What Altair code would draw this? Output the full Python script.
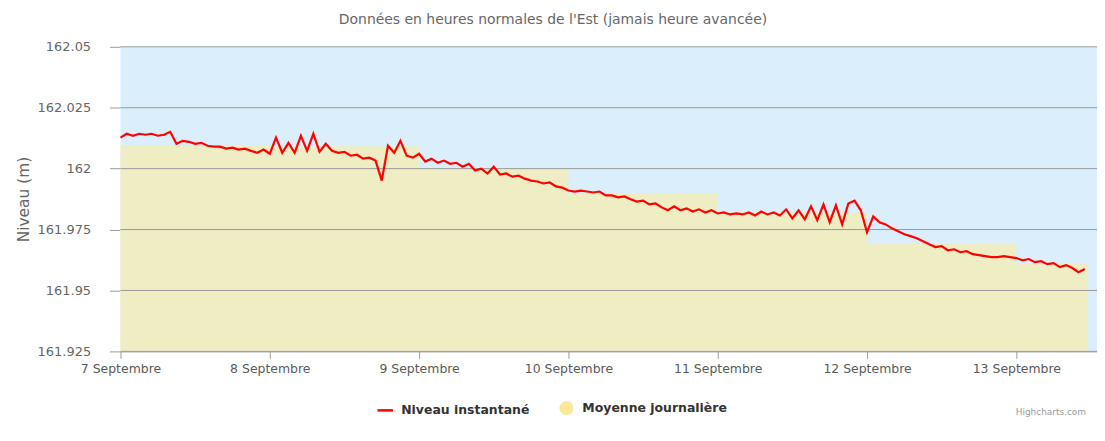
import altair as alt
import pandas as pd

titre = "Données en heures normales de l'Est (jamais heure avancée)"
credit = "Highcharts.com"
series = ["Niveau instantané", "Moyenne journalière"]
jours = [7, 8, 9, 10, 11, 12, 13]
y_ticks = [161.925, 161.95, 161.975, 162.0, 162.025, 162.05]

# Niveau instantané, valeurs horaires (m)
niveau_7 = [162.0127, 162.0143, 162.0135, 162.0143, 162.0139, 162.0143, 162.0135, 162.0139,
            162.0151, 162.0102, 162.0114, 162.0110, 162.0102, 162.0106, 162.0094, 162.0090,
            162.0090, 162.0082, 162.0086, 162.0078, 162.0082, 162.0073, 162.0065, 162.0078]
niveau_8 = [162.0061, 162.0127, 162.0065, 162.0106, 162.0065, 162.0135, 162.0073, 162.0143,
            162.0069, 162.0102, 162.0073, 162.0065, 162.0069, 162.0053, 162.0057, 162.0041,
            162.0045, 162.0033, 161.9951, 162.0094, 162.0065, 162.0114, 162.0053, 162.0045]
niveau_9 = [162.0061, 162.0029, 162.0041, 162.0024, 162.0033, 162.0020, 162.0024, 162.0008,
            162.0020, 161.9992, 162.0000, 161.9980, 162.0008, 161.9976, 161.9980, 161.9967,
            161.9971, 161.9959, 161.9951, 161.9947, 161.9939, 161.9943, 161.9927, 161.9922]
niveau_10 = [161.9910, 161.9906, 161.9910, 161.9906, 161.9902, 161.9906, 161.9890, 161.9890,
             161.9882, 161.9886, 161.9874, 161.9865, 161.9869, 161.9853, 161.9857, 161.9841,
             161.9829, 161.9845, 161.9829, 161.9837, 161.9824, 161.9833, 161.9820, 161.9829]
niveau_11 = [161.9816, 161.9820, 161.9812, 161.9816, 161.9812, 161.9820, 161.9808, 161.9824,
             161.9812, 161.9820, 161.9808, 161.9833, 161.9796, 161.9829, 161.9792, 161.9845,
             161.9788, 161.9853, 161.9780, 161.9849, 161.9771, 161.9857, 161.9869, 161.9829]
niveau_12 = [161.9739, 161.9804, 161.9780, 161.9771, 161.9755, 161.9743, 161.9731, 161.9723,
             161.9714, 161.9702, 161.9690, 161.9678, 161.9682, 161.9665, 161.9669, 161.9657,
             161.9661, 161.9649, 161.9645, 161.9641, 161.9637, 161.9637, 161.9641, 161.9637]
niveau_13 = [161.9633, 161.9624, 161.9629, 161.9616, 161.9620, 161.9608, 161.9612, 161.9596,
             161.9604, 161.9592, 161.9575, 161.9588]

# Moyenne journalière (m)
moyenne = [162.0094, 162.0092, 162.0000, 161.9897, 161.9820, 161.9694, 161.9610]
fin_moyenne = "2023-09-13T11:30:00Z"

niveau = niveau_7 + niveau_8 + niveau_9 + niveau_10 + niveau_11 + niveau_12 + niveau_13
temps = pd.date_range("2023-09-07 00:00", periods=len(niveau), freq="h")
df_niveau = pd.DataFrame({"t": [t.strftime("%Y-%m-%dT%H:%M:%SZ") for t in temps],
                          "niveau": niveau})
df_moy = pd.DataFrame({"t": ["2023-09-%02dT00:00:00Z" % d for d in jours] + [fin_moyenne],
                       "moyenne": moyenne + [moyenne[-1]]})
df_grid = pd.DataFrame({"v": y_ticks})
df_leg = pd.DataFrame({"serie": series})
df_credit = pd.DataFrame({"txt": [credit]})

FONT = "DejaVu Sans"
GRID = "#9a9a9a"
W, H = 981, 306

x_scale = alt.Scale(type="utc", domain=[
    alt.DateTime(year=2023, month=9, date=7, utc=True),
    alt.DateTime(year=2023, month=9, date=13, hours=12, minutes=58, utc=True)])
y_scale = alt.Scale(domain=[161.925, 162.05], zero=False, nice=False)

x_axis = alt.Axis(values=[alt.DateTime(year=2023, month=9, date=d, utc=True) for d in jours],
                  labelExpr="utcdate(datum.value) + ' Septembre'",
                  grid=False, domain=True, domainColor=GRID, tickColor=GRID, tickSize=7,
                  labelPadding=4, labelFont=FONT, labelFontSize=12.5, labelColor="#5a5a5a",
                  labelFlush=False, labelOverlap=False, title=None)
y_axis = alt.Axis(values=y_ticks, labelExpr="'' + datum.value", grid=False, domain=False,
                  tickSize=11, tickColor=GRID, labelPadding=19, labelFont=FONT,
                  labelFontSize=13, labelColor="#666666", title="Niveau (m)",
                  titleFont=FONT, titleFontSize=15.5, titleFontWeight="normal",
                  titleColor="#666666", titleAngle=270, titleX=-92, titleY=153,
                  titleAlign="center", titleBaseline="alphabetic")

X = alt.X("t:T", scale=x_scale, axis=x_axis)

fond = alt.Chart(df_credit).mark_rect(color="#DAEEFB").encode(
    x=alt.value(0), x2=alt.value(W), y=alt.value(0), y2=alt.value(H))

area = alt.Chart(df_moy).mark_area(interpolate="step-after", color="#EEEDC4", opacity=1).encode(
    x=X,
    y=alt.Y("moyenne:Q", scale=y_scale, axis=y_axis),
    y2=alt.datum(161.925),
)

grid = alt.Chart(df_grid).mark_rule(color=GRID, strokeWidth=1).encode(
    y=alt.Y("v:Q", scale=y_scale, axis=y_axis),
)

line = alt.Chart(df_niveau).mark_line(color="#FF0000", strokeWidth=2.2).encode(
    x=X,
    y=alt.Y("niveau:Q", scale=y_scale, axis=y_axis),
)

leg = alt.Legend(title=None, orient="none", legendX=258, legendY=355, direction="horizontal",
                 labelFont=FONT, labelFontSize=12.5, labelFontWeight="bold", labelColor="#333333",
                 symbolSize=170, symbolStrokeWidth=2.5, labelOffset=8, columnPadding=26,
                 padding=0)
leg_points = alt.Chart(df_leg).mark_point(filled=True, opacity=1).encode(
    fill=alt.Fill("serie:N", scale=alt.Scale(domain=series, range=["#FF0000", "#FCE89A"]), legend=leg),
    stroke=alt.Stroke("serie:N", scale=alt.Scale(domain=series, range=["#FF0000", "#FCE89A"]), legend=leg),
    shape=alt.Shape("serie:N", scale=alt.Scale(domain=series, range=[
        "M-1.2,0H1.2", "M0.9,0A0.9,0.9,0,1,1,-0.9,0A0.9,0.9,0,1,1,0.9,0Z"]), legend=leg),
).transform_filter("false")

credit_txt = alt.Chart(df_credit).mark_text(align="right", baseline="bottom", font=FONT,
                                            fontSize=9, color="#999999").encode(
    x=alt.value(970), y=alt.value(372), text="txt:N")

chart = alt.layer(fond, area, grid, line, leg_points, credit_txt).properties(
    width=W, height=H,
    autosize=alt.AutoSizeParams(type="none"),
    padding={"left": 113, "top": 38, "right": 0, "bottom": 76},
    title=alt.TitleParams(text=titre, anchor="middle", frame="group", dx=-56, offset=14,
                          font=FONT, fontSize=14, fontWeight="normal", color="#666666"),
).configure_view(stroke=None)

chart.save("out.html", embed_options={"renderer": "svg", "actions": False})
